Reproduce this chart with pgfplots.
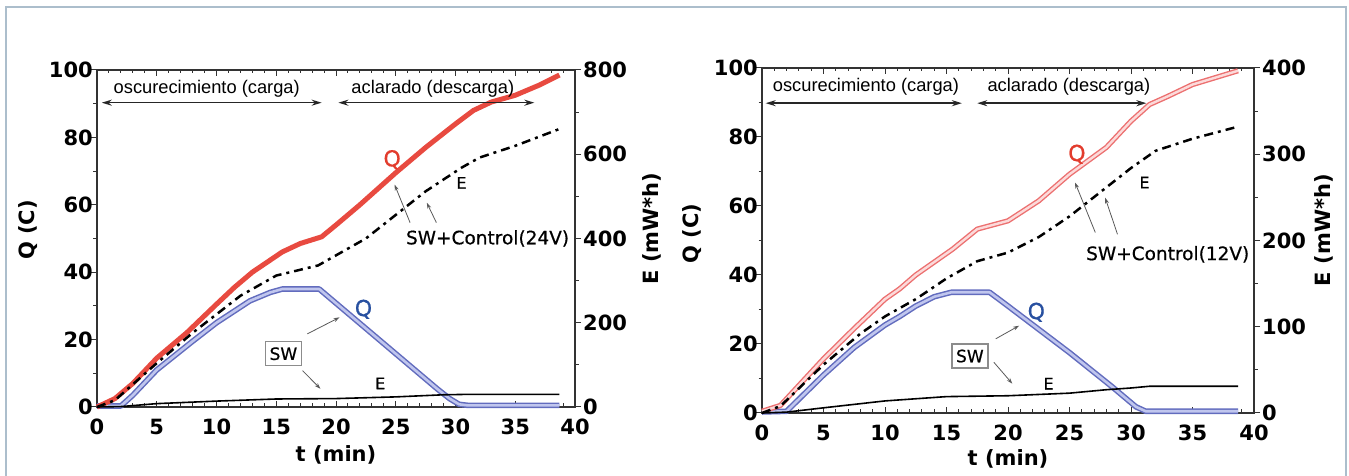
\documentclass[border=0pt]{standalone}
\usepackage{pgfplots}
\pgfplotsset{compat=1.18}
\usepackage{fontspec}
\setmainfont{Liberation Sans}
\newfontfamily\djv{DejaVu Sans}
\newfontfamily\djvm[FakeBold=0.6]{DejaVu Sans}
\usetikzlibrary{arrows.meta}

\definecolor{framec}{RGB}{172,190,204}
\definecolor{redQ}{RGB}{232,74,64}
\definecolor{redOut}{RGB}{236,112,112}
\definecolor{redIn}{RGB}{252,218,218}
\definecolor{bluOut}{RGB}{98,108,190}
\definecolor{bluIn}{RGB}{192,198,238}
\definecolor{bluLbl}{RGB}{40,80,160}
\definecolor{redLbl}{RGB}{226,60,45}

\newcommand{\tickfont}{\djv\bfseries\fontsize{21}{21}\selectfont}
\newcommand{\labfont}{\djv\bfseries\fontsize{21}{21}\selectfont}
\newcommand{\anfont}{\fontsize{18.3}{20}\selectfont}
\newcommand{\ctlfont}{\djvm\fontsize{18.5}{20}\selectfont}
\newcommand{\qfont}{\djvm\fontsize{22}{22}\selectfont}
\newcommand{\efont}{\djvm\fontsize{16}{16}\selectfont}
\newcommand{\swfont}{\djvm\fontsize{17}{17}\selectfont}

\pgfplotsset{
  base/.style={scale only axis, anchor=south west, xmin=0, xmax=40, clip=false,
    axis line style={line width=1.3pt, black!80},
    tick style={line width=1pt, black!80},
    major tick length=6pt, minor tick length=3.5pt,
    tick label style={font=\tickfont, inner sep=0pt},
    /pgf/number format/assume math mode=true,
    label style={font=\labfont},
  },
  qaxis/.style={base, ymin=0, ymax=100, xtick={0,5,...,40}, minor x tick num=4,
    ytick={0,20,...,100}, minor y tick num=1, ytick pos=left,
    xtick align=inside, ytick align=outside,
    xticklabel style={yshift=-12pt}, yticklabel style={xshift=2pt},
    xlabel={t (min)}, ylabel={Q (C)}},
  eaxis/.style={base, axis x line=none, axis y line*=right, minor y tick num=1,
    ytick align=outside, yticklabel style={xshift=2pt}, ylabel={E (mW*h)}},
  qred/.style={redQ, line width=5pt, line join=round, no marks},
  qredd/.style={redOut, line width=1.4pt, double=redIn, double distance=2.4pt, line join=round, no marks},
  qblue/.style={bluOut, line width=1.5pt, double=bluIn, double distance=2.6pt, line join=round, no marks},
  edash/.style={black, line width=2.5pt, dash pattern=on 9pt off 5pt on 3pt off 5pt, no marks},
  esolid/.style={black, line width=1.6pt, no marks},
}
\tikzset{
  harrow/.style={line width=1.6pt, black!85, {Stealth[length=10pt,width=6pt]}-{Stealth[length=10pt,width=6pt]}},
  garrow/.style={line width=0.8pt, black!65, -{Stealth[length=6pt,width=4pt]}},
  swbox/.style={draw=black!45, line width=1.3pt, fill=white, minimum width=36pt, minimum height=24pt, inner sep=0pt, font=\swfont},
}

\begin{document}
\begin{tikzpicture}[x=1pt,y=1pt]
\path[use as bounding box] (0,0) rectangle (1349,476);
\draw[framec, line width=1.5pt] (6,0) -- (6,469) -- (1346,469) -- (1346,0);

% ---------------- left panel (24 V) ----------------
\begin{axis}[qaxis, at={(97pt,69pt)}, width=478pt, height=337pt,
  xlabel style={at={(axis description cs:0.5,-0.142)}, anchor=center},
  ylabel style={at={(axis description cs:-0.144,0.525)}, anchor=center}]
\addplot[qblue] coordinates {(0,0.3) (2,0.3) (3,3.5) (5,11) (8,19.5) (10,25) (12.8,31.5) (14.5,34) (15.5,35) (18.6,35) (20,30.8) (25,15.8) (28.5,5.3) (29.5,2.5) (30.3,0.8) (31,0.5) (38.7,0.5)};
\addplot[qred] coordinates {(0,0) (1.5,2.5) (3,7) (5,14.5) (7.5,22) (10,30.5) (11.5,35.5) (13,40) (15.5,46) (17,48.5) (18.8,50.5) (20,54) (22,60) (25,69.5) (27.5,77) (30,84) (31.5,88) (33,90.5) (35,92.5) (37,95.5) (38.7,98.5)};
\node[anchor=base west, font=\anfont] at (axis cs:1.1,93.1) {oscurecimiento (carga)};
\node[anchor=base west, font=\anfont] at (axis cs:21.0,93.1) {aclarado (descarga)};
\draw[harrow] (axis cs:0.4,90.3) -- (axis cs:18.8,90.3);
\draw[harrow] (axis cs:20.2,90.3) -- (axis cs:36.6,90.3);
\node[font=\qfont, text=redLbl] at (axis cs:24.7,73.4) {Q};
\node[font=\efont] at (axis cs:30.5,66.5) {E};
\node[font=\ctlfont, anchor=east] at (axis cs:39.8,50) {SW+Control(24V)};
\draw[garrow] (axis cs:26.2,54.7) -- (axis cs:24.9,66);
\draw[garrow] (axis cs:28.4,54.7) -- (axis cs:27.6,60.6);
\node[font=\qfont, text=bluLbl] at (axis cs:22.3,29) {Q};
\node[swbox] at (axis cs:15.6,15.8) {SW};
\draw[garrow] (axis cs:17.6,21.7) -- (axis cs:20.3,26.6);
\draw[garrow] (axis cs:17.2,10.8) -- (axis cs:18.7,5.4);
\node[font=\efont] at (axis cs:23.7,7.0) {E};
\end{axis}
\begin{axis}[eaxis, at={(97pt,69pt)}, width=478pt, height=337pt,
  ymin=0, ymax=800, ytick={0,200,...,800},
  ylabel style={at={(axis description cs:1.161,0.53)}, anchor=center}]
\addplot[esolid] coordinates {(0,0) (2,1) (5,8) (10,14) (15,19) (20,20) (25,24) (29,29) (31,30) (38.7,30)};
\addplot[edash] coordinates {(0,0) (1.5,16) (5,104) (8,176) (10,220) (12,264) (15,312) (18.5,336) (20,360) (22.5,400) (25,456) (27.5,512) (30.5,568) (32,592) (35,620) (38.7,660)};
\end{axis}

% ---------------- right panel (12 V) ----------------
\begin{axis}[qaxis, at={(762pt,63pt)}, width=492pt, height=345pt,
  xlabel style={at={(axis description cs:0.5,-0.133)}, anchor=center},
  ylabel style={at={(axis description cs:-0.142,0.52)}, anchor=center}]
\addplot[qblue] coordinates {(0,0.3) (2,0.5) (3,4) (5,11) (7.5,19) (10,25.5) (11.2,28) (12.5,31) (14,33.7) (15.4,35) (18.5,35) (20,31) (25,17.5) (28.5,7.5) (29.5,4.5) (30.4,1.8) (31.2,0.5) (38.7,0.5)};
\addplot[qredd] coordinates {(0,0.5) (1.5,2.2) (3,8) (5,15.7) (7.5,24.5) (10,33) (11.2,36) (12.5,40) (15.5,47.5) (17.5,53.3) (20,55.7) (22.5,61.5) (25,69.2) (28,77) (30,84.6) (31.5,89.4) (33,91.8) (35,95.2) (38.7,99.2)};
\node[anchor=base west, font=\anfont] at (axis cs:0.6,93.2) {oscurecimiento (carga)};
\node[anchor=base west, font=\anfont] at (axis cs:18.05,93.2) {aclarado (descarga)};
\draw[harrow] (axis cs:0.3,89.8) -- (axis cs:16.25,89.8);
\draw[harrow] (axis cs:17.5,89.8) -- (axis cs:31.25,89.8);
\node[font=\qfont, text=redLbl] at (axis cs:25.6,75) {Q};
\node[font=\efont] at (axis cs:31.1,66.8) {E};
\node[font=\ctlfont, anchor=east] at (axis cs:39.9,46) {SW+Control(12V)};
\draw[garrow] (axis cs:27.1,52.3) -- (axis cs:25.45,66.8);
\draw[garrow] (axis cs:28.9,51.8) -- (axis cs:27.9,62.4);
\node[font=\qfont, text=bluLbl] at (axis cs:22.3,29.2) {Q};
\node[swbox] at (axis cs:16.9,16.5) {SW};
\draw[garrow] (axis cs:19.0,21.5) -- (axis cs:20.9,25.3);
\draw[garrow] (axis cs:18.85,14.7) -- (axis cs:20.35,8.5);
\node[font=\efont] at (axis cs:23.3,8.5) {E};
\end{axis}
\begin{axis}[eaxis, at={(762pt,63pt)}, width=492pt, height=345pt,
  ymin=0, ymax=400, ytick={0,100,...,400},
  ylabel style={at={(axis description cs:1.143,0.53)}, anchor=center}]
\addplot[esolid] coordinates {(0,0) (2,1) (5,6) (10,14) (15,19) (20,20) (25,23) (28,27) (30,29) (31.5,31) (38.7,31)};
\addplot[edash] coordinates {(0,0) (1.5,8) (5,56) (8,92) (10,112) (12.5,132) (15,156) (17.5,176) (20,186) (22.5,204) (25,228) (27.5,256) (30,284) (32,304) (35,318) (38.7,332)};
\end{axis}
\end{tikzpicture}
\end{document}
